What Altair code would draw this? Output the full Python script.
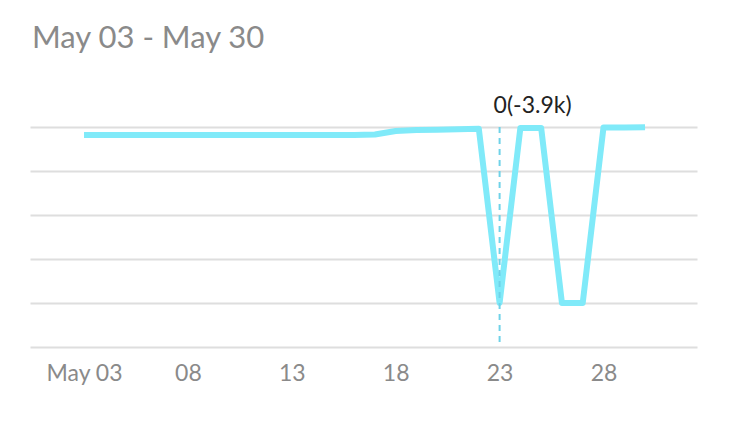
import altair as alt
import pandas as pd

days = list(range(3, 31))
values = [3820, 3820, 3820, 3820, 3820, 3820, 3820, 3820, 3820, 3820, 3820, 3820, 3820, 3820, 3830,
          3910, 3930, 3940, 3950, 3960, 0, 3980, 3980, 0, 0, 3990, 3990, 3995]
tick_days = [3, 8, 13, 18, 23, 28]
grid_values = [-1000, 0, 1000, 2000, 3000, 4000]
marker_day = [23]
annotation = ["0(-3.9k)"]

df = pd.DataFrame({"day": days, "value": values})
mk = pd.DataFrame({"day": marker_day, "label": annotation})

x = alt.X("day:Q",
          scale=alt.Scale(domain=[0.4, 32.5], nice=False, zero=False),
          axis=alt.Axis(values=tick_days, grid=False, ticks=False, domain=False,
                        labelExpr="datum.value == 3 ? 'May 03' : (datum.value < 10 ? '0' + datum.value : '' + datum.value)",
                        labelFont="Lato", labelFontSize=23, labelColor="#8a8a8a",
                        labelPadding=15, title=None))
y = alt.Y("value:Q",
          scale=alt.Scale(domain=[-1000, 4000], nice=False, zero=False),
          axis=alt.Axis(values=grid_values, grid=True, gridColor="#dedede", gridWidth=2,
                        labels=False, ticks=False, domain=False, title=None))

line = alt.Chart(df).mark_line(color="#80eaf9", strokeWidth=6, strokeJoin="round").encode(x=x, y=y)

rule = alt.Chart(mk).mark_rule(color="#6fd2e8", strokeWidth=2, strokeDash=[6, 5]).encode(
    x="day:Q", y=alt.value(0), y2=alt.value(220))

label = alt.Chart(mk).mark_text(align="left", baseline="alphabetic", dx=-6, font="Lato",
                                 fontSize=23, color="#222222").encode(
    x="day:Q", y=alt.value(-14), text="label:N")

chart = alt.layer(line, rule, label).properties(
    width=667, height=220,
    title=alt.TitleParams("May 03 - May 30", anchor="start", font="Lato", fontSize=31,
                          fontWeight="normal", color="#8a8a8a", offset=40, dx=2),
    autosize=alt.AutoSizeParams(type="none"),
    padding={"left": 22, "top": 119, "right": 10, "bottom": 40},
).configure_view(stroke=None)

chart.save("out.html", embed_options={"renderer": "svg", "actions": False})
